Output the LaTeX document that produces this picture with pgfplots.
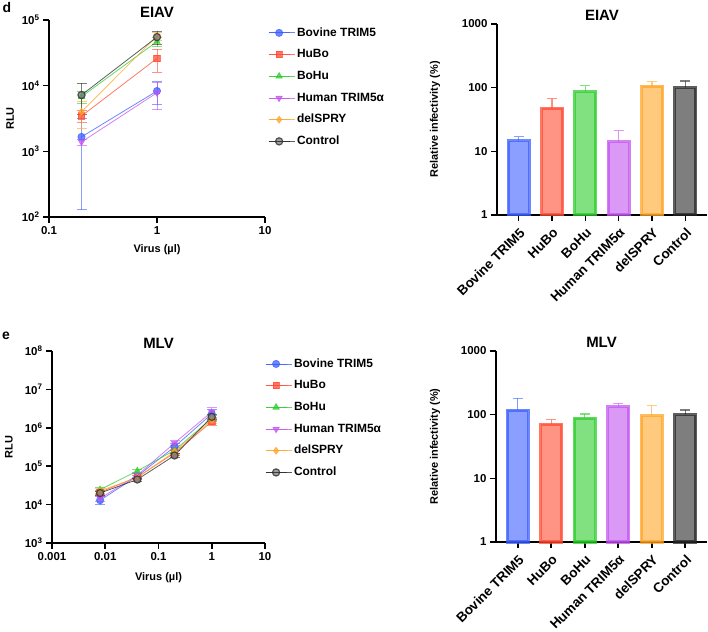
\documentclass[border=0pt]{standalone}
\usepackage{fontspec}
\setmainfont{Liberation Sans}
\usepackage{pgfplots}
\pgfplotsset{compat=1.18}

\definecolor{cBov}{RGB}{60,95,255}
\definecolor{cHuBo}{RGB}{255,75,50}
\definecolor{cBoHu}{RGB}{45,205,45}
\definecolor{cHum}{RGB}{195,85,240}
\definecolor{cDel}{RGB}{255,165,40}
\definecolor{cCtl}{RGB}{40,40,40}

\newcommand{\fs}[1]{\fontsize{#1}{#1}\selectfont}

\pgfplotsset{
  panel/.style={
    scale only axis,
    axis lines=left,
    axis line style={-, line width=1.6bp, black},
    tick align=outside,
    major tick length=6bp,
    tick style={line width=1.6bp, black},
    minor tick style={draw=none},
    ticklabel style={font=\bfseries\fs{11.5}},
    label style={font=\bfseries\fs{11}},
    title style={font=\bfseries\fs{15}, at={(0.5,1)}, anchor=base, yshift=-3bp},
    clip=false,
  },
  leg/.style={
    legend style={at={(1.014,0.975)}, anchor=north west, draw=none, fill=none,
      inner sep=0pt, font=\bfseries\fs{12}, row sep=6.2bp,
      nodes={inner sep=2bp, text height=9bp, text depth=2.5bp}},
    legend cell align=left,
    legend image code/.code={\draw[mark repeat=2,mark phase=2] plot coordinates {(0bp,0bp) (10.5bp,0bp) (21bp,0bp)};
      \path (0bp,0bp) -- (26bp,0bp);},
  },
  ser/.style={color=#1, line width=0.8bp, opacity=0.75, mark size=3.6bp,
    error bars/y dir=both, error bars/y explicit,
    error bars/error bar style={color=#1, line width=0.9bp, opacity=0.6},
    error bars/error mark options={rotate=90, color=#1, mark size=5bp, line width=0.9bp}},
  br/.style={draw=#1, fill=#1, fill opacity=0.6, draw opacity=0.75, line width=3bp,
    bar width=21bp, bar shift=0pt,
    error bars/y dir=plus, error bars/y explicit,
    error bars/error bar style={color=#1, opacity=0.6, line width=1.3bp},
    error bars/error mark options={rotate=90, color=#1, mark size=5bp, line width=1.3bp}},
}

\begin{document}
\begin{tikzpicture}
\path[use as bounding box] (0,0) rectangle (708bp,632bp);

\node[font=\bfseries\fs{14}] at (7bp,624bp) {d};
\node[font=\bfseries\fs{14}] at (6bp,296bp) {e};

% d, EIAV dose curve
\begin{axis}[panel, leg, at={(49bp,415bp)}, anchor=south west, width=216bp, height=197bp,
  xmode=log, ymode=log, xmin=0.1, xmax=10, ymin=100, ymax=100000,
  xtick={0.1,1,10}, xticklabels={0.1,1,10},
  ytick={100,1000,10000,100000},
  yticklabels={10\textsuperscript{2},10\textsuperscript{3},10\textsuperscript{4},10\textsuperscript{5}},
  xlabel={Virus (µl)}, xlabel style={at={(axis description cs:0.5,-0.168)}, anchor=center},
  ylabel={RLU}, ylabel style={at={(axis description cs:-0.18,0.5)}, anchor=center},
  title={EIAV}]
\addplot[ser=cBov, mark=*] table[x=x, y=y, y error=e] {
x y e
0.2 1660 1530
1 8300 3200
};
\addlegendentry{Bovine TRIM5}
\addplot[ser=cHuBo, mark=square*, mark size=3.2bp] table[x=x, y=y, y error=e] {
x y e
0.2 3450 700
1 26000 10000
};
\addlegendentry{HuBo}
\addplot[ser=cBoHu, mark=triangle*] table[x=x, y=y, y error=e] {
x y e
0.2 6800 1500
1 47000 8000
};
\addlegendentry{BoHu}
\addplot[ser=cHum, mark=triangle*, mark options={rotate=180}] table[x=x, y=y, y error=e] {
x y e
0.2 1390 150
1 7800 3500
};
\addlegendentry{Human TRIM5α}
\addplot[ser=cDel, mark=diamond*, mark size=3.4bp] table[x=x, y=y, y error=e] {
x y e
0.2 4000 1800
1 57000 8000
};
\addlegendentry{delSPRY}
\addplot[ser=cCtl, mark=*, mark options={fill=cCtl!60, draw=cCtl, line width=1.2bp}] table[x=x, y=y, y error=e] {
x y e
0.2 7200 3600
1 55000 13000
};
\addlegendentry{Control}
\end{axis}

% d, EIAV relative infectivity
\begin{axis}[panel, at={(497bp,417bp)}, anchor=south west, width=210bp, height=191bp,
  ybar, ymode=log, ymin=1, ymax=1000, xmin=-0.65, xmax=5.65,
  ytick={1,10,100,1000}, yticklabels={1,10,100,1000},
  xtick={0,...,5},
  xticklabels={Bovine TRIM5,HuBo,BoHu,Human TRIM5α,delSPRY,Control},
  xticklabel style={xshift=6bp, yshift=-7bp, rotate=45, anchor=east, font=\bfseries\fs{13.5}},
  ylabel={Relative infectivity (\%)}, ylabel style={at={(axis description cs:-0.295,0.5)}, anchor=center},
  title={EIAV}, title style={yshift=1bp}]
\addplot[br=cBov] coordinates {(0,14.7) +- (0,2.3)};
\addplot[br=cHuBo] coordinates {(1,47.5) +- (0,19.5)};
\addplot[br=cBoHu] coordinates {(2,86.5) +- (0,21.5)};
\addplot[br=cHum] coordinates {(3,14.2) +- (0,6.8)};
\addplot[br=cDel] coordinates {(4,106) +- (0,18)};
\addplot[br=cCtl] coordinates {(5,100) +- (0,27)};
\end{axis}

% e, MLV dose curve
\begin{axis}[panel, leg, at={(52bp,89bp)}, anchor=south west, width=213bp, height=192bp,
  legend style={at={(1.0,0.974)}},
  xmode=log, ymode=log, xmin=0.001, xmax=10, ymin=1000, ymax=100000000,
  xtick={0.001,0.01,0.1,1,10}, xticklabels={0.001,0.01,0.1,1,10},
  ytick={1e3,1e4,1e5,1e6,1e7,1e8},
  yticklabels={10\textsuperscript{3},10\textsuperscript{4},10\textsuperscript{5},10\textsuperscript{6},10\textsuperscript{7},10\textsuperscript{8}},
  xlabel={Virus (µl)}, xlabel style={at={(axis description cs:0.5,-0.182)}, anchor=center},
  ylabel={RLU}, ylabel style={at={(axis description cs:-0.202,0.5)}, anchor=center},
  title={MLV}]
\addplot[ser=cBov, mark=*] table[x=x, y=y, y error=e] {
x y e
0.008 13000 3000
0.04 55000 8000
0.2 320000 60000
1 2300000 700000
};
\addlegendentry{Bovine TRIM5}
\addplot[ser=cHuBo, mark=square*, mark size=3.2bp] table[x=x, y=y, y error=e] {
x y e
0.008 21000 3000
0.04 52000 6000
0.2 220000 30000
1 1450000 300000
};
\addlegendentry{HuBo}
\addplot[ser=cBoHu, mark=triangle*] table[x=x, y=y, y error=e] {
x y e
0.008 24500 3000
0.04 75000 8000
0.2 260000 40000
1 1750000 300000
};
\addlegendentry{BoHu}
\addplot[ser=cHum, mark=triangle*, mark options={rotate=180}] table[x=x, y=y, y error=e] {
x y e
0.008 14500 2500
0.04 58000 8000
0.2 400000 60000
1 2600000 700000
};
\addlegendentry{Human TRIM5α}
\addplot[ser=cDel, mark=diamond*, mark size=3.4bp] table[x=x, y=y, y error=e] {
x y e
0.008 23000 4000
0.04 50000 6000
0.2 240000 40000
1 1600000 300000
};
\addlegendentry{delSPRY}
\addplot[ser=cCtl, mark=*, mark options={fill=cCtl!60, draw=cCtl, line width=1.2bp}] table[x=x, y=y, y error=e] {
x y e
0.008 20000 2500
0.04 45000 4000
0.2 190000 20000
1 1930000 300000
};
\addlegendentry{Control}
\end{axis}

% e, MLV relative infectivity
\begin{axis}[panel, at={(496bp,90bp)}, anchor=south west, width=211bp, height=191bp,
  ybar, ymode=log, ymin=1, ymax=1000, xmin=-0.65, xmax=5.65,
  ytick={1,10,100,1000}, yticklabels={1,10,100,1000},
  xtick={0,...,5},
  xticklabels={Bovine TRIM5,HuBo,BoHu,Human TRIM5α,delSPRY,Control},
  xticklabel style={xshift=6bp, yshift=-7bp, rotate=45, anchor=east, font=\bfseries\fs{13.5}},
  ylabel={Relative infectivity (\%)}, ylabel style={at={(axis description cs:-0.289,0.5)}, anchor=center},
  title={MLV}, title style={yshift=1bp}]
\addplot[br=cBov] coordinates {(0,118) +- (0,63)};
\addplot[br=cHuBo] coordinates {(1,71) +- (0,12)};
\addplot[br=cBoHu] coordinates {(2,88) +- (0,14)};
\addplot[br=cHum] coordinates {(3,134) +- (0,16)};
\addplot[br=cDel] coordinates {(4,97) +- (0,42)};
\addplot[br=cCtl] coordinates {(5,100) +- (0,19)};
\end{axis}
\end{tikzpicture}
\end{document}
